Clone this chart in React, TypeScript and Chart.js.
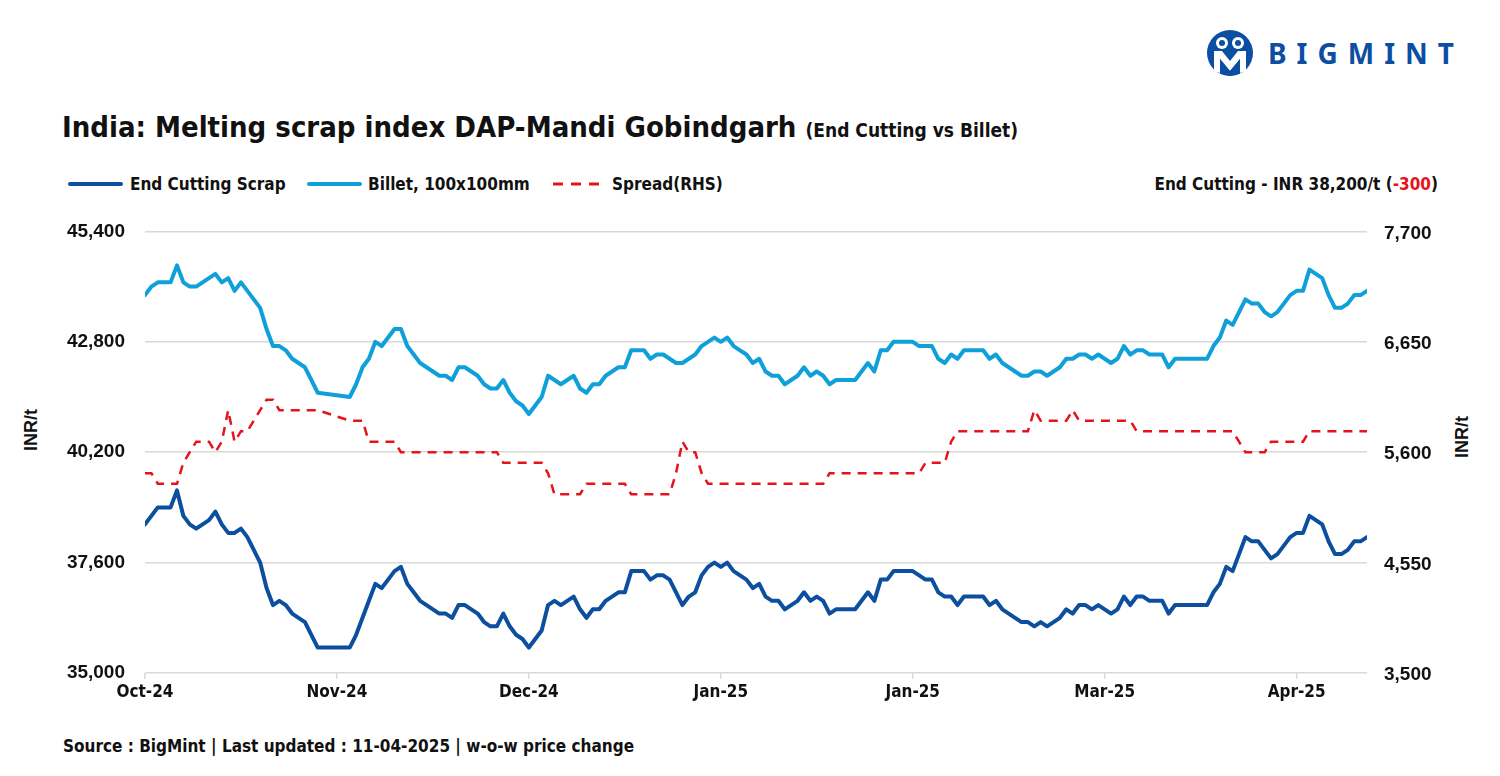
import React, { useEffect, useRef } from "react";
import { Chart, registerables } from "chart.js";

Chart.register(...registerables);

// Tick labels shown every TICK_STEP daily points (as printed in the source chart)
const TICK_LABELS = ["Oct-24", "Nov-24", "Dec-24", "Jan-25", "Jan-25", "Mar-25", "Apr-25"];
const TICK_STEP = 30;

// End Cutting Scrap (INR/t), daily points; null = no data (line spans the gap)
const SCRAP = [
  38500, 38700, 38900, 38900, 38900, 39300, 38700, 38500, 38400, 38500,
  38600, 38800, 38500, 38300, 38300, 38400, 38200, 37900, 37600, 37000,
  36600, 36700, 36600, 36400, 36300, 36200, 35900, 35600, null, null,
  null, null, 35600, 35900, 36300, 36700, 37100, 37000, 37200, 37400,
  37500, 37100, 36900, 36700, 36600, 36500, 36400, 36400, 36300, 36600,
  36600, 36500, 36400, 36200, 36100, 36100, 36400, 36100, 35900, 35800,
  35600, 35800, 36000, 36600, 36700, 36600, 36700, 36800, 36500, 36300,
  36500, 36500, 36700, 36800, 36900, 36900, 37400, 37400, 37400, 37200,
  37300, 37300, 37200, 36900, 36600, 36800, 36900, 37300, 37500, 37600,
  37500, 37600, 37400, 37300, 37200, 37000, 37100, 36800, 36700, 36700,
  36500, 36600, 36700, 36900, 36700, 36800, 36700, 36400, 36500, 36500,
  36500, 36500, 36700, 36900, 36700, 37200, 37200, 37400, 37400, 37400,
  37400, 37300, 37200, 37200, 36900, 36800, 36800, 36600, 36800, 36800,
  36800, 36800, 36600, 36700, 36500, 36400, 36300, 36200, 36200, 36100,
  36200, 36100, 36200, 36300, 36500, 36400, 36600, 36600, 36500, 36600,
  36500, 36400, 36500, 36800, 36600, 36800, 36800, 36700, 36700, 36700,
  36400, 36600, 36600, 36600, 36600, 36600, 36600, 36900, 37100, 37500,
  37400, 37800, 38200, 38100, 38100, 37900, 37700, 37800, 38000, 38200,
  38300, 38300, 38700, 38600, 38500, 38100, 37800, 37800, 37900, 38100,
  38100, 38200,
];

// Billet, 100x100mm (INR/t)
const BILLET = [
  43900, 44100, 44200, 44200, 44200, 44600, 44200, 44100, 44100, 44200,
  44300, 44400, 44200, 44300, 44000, 44200, 44000, 43800, 43600, 43100,
  42700, 42700, 42600, 42400, 42300, 42200, 41900, 41600, null, null,
  null, null, 41500, 41800, 42200, 42400, 42800, 42700, 42900, 43100,
  43100, 42700, 42500, 42300, 42200, 42100, 42000, 42000, 41900, 42200,
  42200, 42100, 42000, 41800, 41700, 41700, 41900, 41600, 41400, 41300,
  41100, 41300, 41500, 42000, 41900, 41800, 41900, 42000, 41700, 41600,
  41800, 41800, 42000, 42100, 42200, 42200, 42600, 42600, 42600, 42400,
  42500, 42500, 42400, 42300, 42300, 42400, 42500, 42700, 42800, 42900,
  42800, 42900, 42700, 42600, 42500, 42300, 42400, 42100, 42000, 42000,
  41800, 41900, 42000, 42200, 42000, 42100, 42000, 41800, 41900, 41900,
  41900, 41900, 42100, 42300, 42100, 42600, 42600, 42800, 42800, 42800,
  42800, 42700, 42700, 42700, 42400, 42300, 42500, 42400, 42600, 42600,
  42600, 42600, 42400, 42500, 42300, 42200, 42100, 42000, 42000, 42100,
  42100, 42000, 42100, 42200, 42400, 42400, 42500, 42500, 42400, 42500,
  42400, 42300, 42400, 42700, 42500, 42600, 42600, 42500, 42500, 42500,
  42200, 42400, 42400, 42400, 42400, 42400, 42400, 42700, 42900, 43300,
  43200, 43500, 43800, 43700, 43700, 43500, 43400, 43500, 43700, 43900,
  44000, 44000, 44500, 44400, 44300, 43900, 43600, 43600, 43700, 43900,
  43900, 44000,
];

// Spread (RHS, INR/t)
const SPREAD = [
  5400, 5400, 5300, 5300, 5300, 5300, 5500, 5600, 5700, 5700,
  5700, 5600, 5700, 6000, 5700, 5800, 5800, 5900, 6000, 6100,
  6100, 6000, 6000, 6000, 6000, 6000, 6000, 6000, null, null,
  null, null, 5900, 5900, 5900, 5700, 5700, 5700, 5700, 5700,
  5600, 5600, 5600, 5600, 5600, 5600, 5600, 5600, 5600, 5600,
  5600, 5600, 5600, 5600, 5600, 5600, 5500, 5500, 5500, 5500,
  5500, 5500, 5500, 5400, 5200, 5200, 5200, 5200, 5200, 5300,
  5300, 5300, 5300, 5300, 5300, 5300, 5200, 5200, 5200, 5200,
  5200, 5200, 5200, 5400, 5700, 5600, 5600, 5400, 5300, 5300,
  5300, 5300, 5300, 5300, 5300, 5300, 5300, 5300, 5300, 5300,
  5300, 5300, 5300, 5300, 5300, 5300, 5300, 5400, 5400, 5400,
  5400, 5400, 5400, 5400, 5400, 5400, 5400, 5400, 5400, 5400,
  5400, 5400, 5500, 5500, 5500, 5500, 5700, 5800, 5800, 5800,
  5800, 5800, 5800, 5800, 5800, 5800, 5800, 5800, 5800, 6000,
  5900, 5900, 5900, 5900, 5900, 6000, 5900, 5900, 5900, 5900,
  5900, 5900, 5900, 5900, 5900, 5800, 5800, 5800, 5800, 5800,
  5800, 5800, 5800, 5800, 5800, 5800, 5800, 5800, 5800, 5800,
  5800, 5700, 5600, 5600, 5600, 5600, 5700, 5700, 5700, 5700,
  5700, 5700, 5800, 5800, 5800, 5800, 5800, 5800, 5800, 5800,
  5800, 5800,
];

const LEFT_TICKS = { min: 35000, max: 45400, step: 2600 };
const RIGHT_TICKS = { min: 3500, max: 7700, step: 1050 };

const C_SCRAP = "#0b4f9e";
const C_BILLET = "#0fa0da";
const C_SPREAD = "#e5141c";
const C_GRID = "#d9d9d9";

const NARROW = '"Liberation Sans Narrow", "DejaVu Sans Condensed", "Roboto", sans-serif';
const WIDE = '"Liberation Sans", Arial, sans-serif';

const fmt = (v: number) => Number(v).toLocaleString("en-US");

export default function App() {
  const ref = useRef<HTMLCanvasElement>(null);

  useEffect(() => {
    if (!ref.current) return;
    const pts = (arr: (number | null)[]) => arr.map((v, i) => ({ x: i, y: v }));
    const chart = new Chart(ref.current, {
      type: "line",
      data: {
        datasets: [
          {
            label: "Spread(RHS)",
            data: pts(SPREAD) as any,
            borderColor: C_SPREAD,
            borderWidth: 2.5,
            borderDash: [9, 7],
            pointRadius: 0,
            spanGaps: true,
            tension: 0,
            yAxisID: "y1",
          },
          {
            label: "Billet, 100x100mm",
            data: pts(BILLET) as any,
            borderColor: C_BILLET,
            borderWidth: 4,
            pointRadius: 0,
            spanGaps: true,
            tension: 0,
            borderJoinStyle: "round",
            borderCapStyle: "round",
            yAxisID: "y",
          },
          {
            label: "End Cutting Scrap",
            data: pts(SCRAP) as any,
            borderColor: C_SCRAP,
            borderWidth: 4,
            pointRadius: 0,
            spanGaps: true,
            tension: 0,
            borderJoinStyle: "round",
            borderCapStyle: "round",
            yAxisID: "y",
          },
        ],
      },
      options: {
        responsive: false,
        animation: false,
        layout: { padding: { top: 31, left: 0, right: 0, bottom: 0 } },
        plugins: { legend: { display: false }, tooltip: { enabled: false }, title: { display: false } },
        scales: {
          x: {
            type: "linear",
            min: 0,
            max: SCRAP.length - 1,
            ticks: {
              stepSize: TICK_STEP,
              includeBounds: false,
              autoSkip: false,
              maxRotation: 0,
              padding: 3,
              color: "#111",
              font: { family: NARROW, size: 17, weight: "bold" },
              callback: (v: any) => {
                const k = Number(v) / TICK_STEP;
                return Number.isInteger(k) && TICK_LABELS[k] ? TICK_LABELS[k] : null;
              },
            },
            grid: { drawOnChartArea: false, drawTicks: true, tickLength: 6, color: C_GRID, lineWidth: 1.5 },
            border: { display: false },
            afterFit: (s: any) => {
              s.height = 47;
            },
          },
          y: {
            position: "left",
            min: LEFT_TICKS.min,
            max: LEFT_TICKS.max,
            ticks: {
              stepSize: LEFT_TICKS.step,
              padding: 20,
              color: "#111",
              font: { family: WIDE, size: 19, weight: "bold" },
              callback: (v: any) => fmt(v),
            },
            grid: { color: C_GRID, lineWidth: 1.5, drawTicks: false },
            border: { display: false },
            afterFit: (s: any) => {
              s.width = 145;
            },
          },
          y1: {
            position: "right",
            min: RIGHT_TICKS.min,
            max: RIGHT_TICKS.max,
            ticks: {
              stepSize: RIGHT_TICKS.step,
              padding: 17,
              labelOffset: 2,
              color: "#111",
              font: { family: WIDE, size: 19, weight: "bold" },
              callback: (v: any) => fmt(v),
            },
            grid: { display: false, drawTicks: false },
            border: { display: false },
            afterFit: (s: any) => {
              s.width = 133;
            },
          },
        },
      } as any,
    });
    return () => chart.destroy();
  }, []);

  const abs = (s: React.CSSProperties): React.CSSProperties => ({ position: "absolute", ...s });
  const text: React.CSSProperties = { fontFamily: NARROW, fontWeight: 700, color: "#111", whiteSpace: "nowrap" };

  return (
    <div style={abs({ left: 0, top: 0, width: 1500, height: 776, background: "#fff", overflow: "hidden" })}>
      {/* Logo */}
      <svg width="48" height="48" viewBox="0 0 48 48" style={abs({ left: 1206, top: 29 })}>
        <circle cx="24" cy="24" r="23" fill="#0b4ea2" />
        <circle cx="16" cy="14" r="6" fill="#fff" />
        <circle cx="32" cy="14" r="6" fill="#fff" />
        <circle cx="16" cy="14" r="3" fill="#0b4ea2" />
        <circle cx="32" cy="14" r="3" fill="#0b4ea2" />
        <path d="M8 22 L16 22 L24 32 L32 22 L40 22 L40 42 L34 44 L34 30 L24 42 L14 30 L14 44 L8 42 Z" fill="#fff" />
        <path d="M14 30 L24 42 L34 30 L34 44 L24 47 L14 44 Z" fill="#0b4ea2" />
      </svg>
      <div style={abs({ left: 1268, top: 35, fontFamily: '"Noto Sans", sans-serif', fontWeight: 700, fontSize: 28, letterSpacing: 10, color: "#0b4ea2", lineHeight: "36px" })}>
        BIGMINT
      </div>

      {/* Title */}
      <div style={abs({ left: 62, top: 109, ...text, fontSize: 29, lineHeight: "36px" })}>
        India: Melting scrap index DAP-Mandi Gobindgarh{" "}
        <span style={{ fontSize: 19 }}>(End Cutting vs Billet)</span>
      </div>

      {/* Legend */}
      <div style={abs({ left: 68, top: 182, width: 55, height: 4, borderRadius: 2, background: C_SCRAP })} />
      <div style={abs({ left: 130, top: 172, ...text, fontSize: 17, lineHeight: "24px" })}>End Cutting Scrap</div>
      <div style={abs({ left: 307, top: 182, width: 55, height: 4, borderRadius: 2, background: C_BILLET })} />
      <div style={abs({ left: 368, top: 172, ...text, fontSize: 17, lineHeight: "24px" })}>Billet, 100x100mm</div>
      <svg width="56" height="6" style={abs({ left: 552, top: 181 })}>
        <line x1="1" y1="3" x2="55" y2="3" stroke={C_SPREAD} strokeWidth="3" strokeDasharray="10 8" />
      </svg>
      <div style={abs({ left: 612, top: 172, ...text, fontSize: 17, lineHeight: "24px" })}>Spread(RHS)</div>

      {/* Latest price note */}
      <div style={abs({ right: 1500 - 1438, top: 172, ...text, fontSize: 17, lineHeight: "24px" })}>
        End Cutting - INR 38,200/t (<span style={{ color: C_SPREAD }}>-300</span>)
      </div>

      {/* Axis titles */}
      <div style={abs({ left: 31, top: 430, ...text, fontFamily: WIDE, fontSize: 18, transform: "translate(-50%, -50%) rotate(-90deg)" })}>INR/t</div>
      <div style={abs({ left: 1462, top: 437, ...text, fontFamily: WIDE, fontSize: 18, transform: "translate(-50%, -50%) rotate(-90deg)" })}>INR/t</div>

      {/* Chart */}
      <canvas ref={ref} width={1500} height={520} style={abs({ left: 0, top: 200, width: 1500, height: 520 })} />

      {/* Source */}
      <div style={abs({ left: 63, top: 734, ...text, fontSize: 17, lineHeight: "24px" })}>
        Source : BigMint | Last updated : 11-04-2025 | w-o-w price change
      </div>
    </div>
  );
}
